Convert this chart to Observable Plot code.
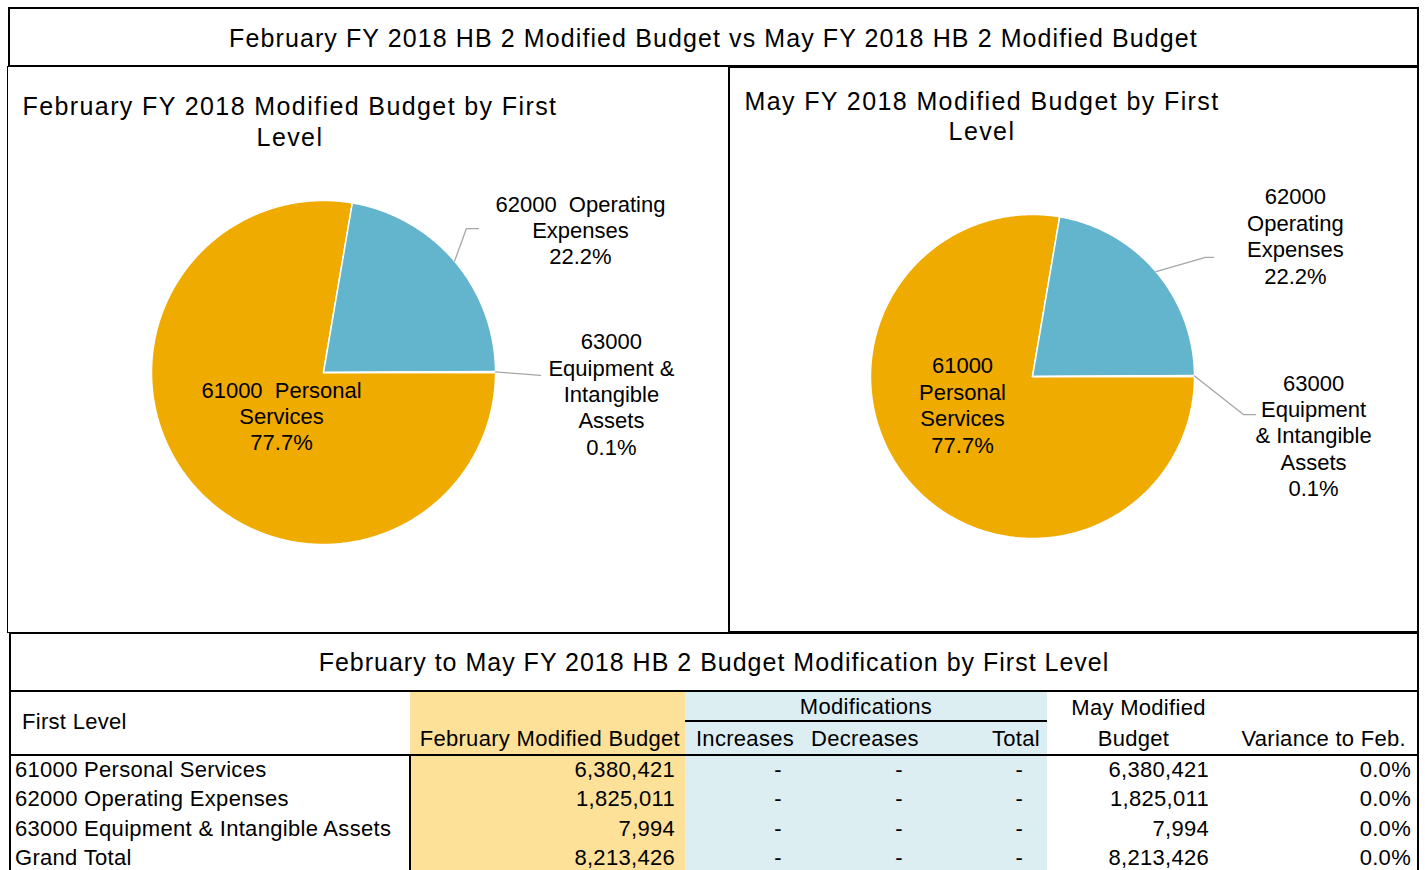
<!DOCTYPE html>
<html><head><meta charset="utf-8">
<script src="https://cdn.jsdelivr.net/npm/d3@7"></script>
<script src="https://cdn.jsdelivr.net/npm/@observablehq/plot@0.6"></script>
<style>
html,body{margin:0;padding:0;background:#fff;}
body{width:1425px;height:870px;overflow:hidden;position:relative;font-family:"Liberation Sans",Arial,sans-serif;color:#000;}
.abs{position:absolute;box-sizing:border-box;}
#mainTitle{left:8px;top:7px;width:1411px;height:60px;border:2px solid #000;text-align:center;font-size:25px;line-height:58px;letter-spacing:1.1px;}
#leftPanel{left:7px;top:66px;width:722px;height:567px;border:1px solid #000;}
#rightPanel{left:728px;top:66px;width:691px;height:567px;border:2px solid #000;}
.ctitle{white-space:nowrap;text-align:center;font-size:25px;letter-spacing:1.4px;width:700px;}
#tableBox{left:9px;top:632px;width:1410px;height:260px;border:2px solid #000;border-bottom:none;}
#tableTitle{height:56px;line-height:56px;text-align:center;font-size:25px;letter-spacing:1px;border-bottom:2px solid #000;}
table{border-collapse:collapse;table-layout:fixed;width:1406px;font-size:22px;letter-spacing:0.3px;}
td{padding:0;white-space:nowrap;overflow:visible;}
.yl{background:#FDE199;}
.lb{background:#DDEEF3;}
.bb{border-bottom:2px solid #000;}
.bl{border-left:2px solid #000;}
.r{text-align:right;}
.c{text-align:center;}
.pie{position:absolute;}
</style>
</head><body>
<script>
// ---------- data ----------
const categories = ["61000 Personal Services", "62000 Operating Expenses", "63000 Equipment & Intangible Assets"];
const febBudget = [6380421, 1825011, 7994];
const mayBudget = [6380421, 1825011, 7994];
const increases = [0, 0, 0];
const decreases = [0, 0, 0];
const modTotals = [0, 0, 0];
const pieColors = ["#F0AB00", "#63B4CD", "#A5A5A5"];

const mainTitle = "February FY 2018 HB 2 Modified Budget vs May FY 2018 HB 2 Modified Budget";
const febTitleLines = ["February FY 2018 Modified Budget by First", "Level"];
const mayTitleLines = ["May FY 2018 Modified Budget by First", "Level"];
const tableTitle = "February to May FY 2018 HB 2 Budget Modification by First Level";

// label text split (per pie), percent appended from values
const febLabelLines = [["61000\u00A0 Personal", "Services"], ["62000\u00A0 Operating", "Expenses"], ["63000", "Equipment &", "Intangible", "Assets"]];
const mayLabelLines = [["61000", "Personal", "Services"], ["62000", "Operating", "Expenses"], ["63000", "Equipment", "& Intangible", "Assets"]];
// label centres in pie-radius units
const febLabelPos = [[-0.244, -0.25], [1.494, 0.831], [1.674, -0.122]];
const mayLabelPos = [[-0.432, -0.173], [1.623, 0.870], [1.735, -0.361]];
// leader elbows in pie-radius units (start point is slice mid-angle on the rim)
const febLeaders = [null, [[0.831, 0.837], [0.901, 0.837]], [[1.262, -0.017]]];
const mayLeaders = [null, [[1.068, 0.735], [1.117, 0.735]], [[1.302, -0.235], [1.377, -0.235]]];

const el = (tag, cls, html) => { const e = document.createElement(tag); if (cls) e.className = cls; if (html != null) e.innerHTML = html; return e; };
const esc = s => s.replace(/&/g, "&amp;");

// ---------- frames ----------
const mt = el("div", "abs", esc(mainTitle)); mt.id = "mainTitle"; document.body.appendChild(mt);
const lp = el("div", "abs"); lp.id = "leftPanel"; document.body.appendChild(lp);
const rp = el("div", "abs"); rp.id = "rightPanel"; document.body.appendChild(rp);

function chartTitle(lines, centerX, top, lh) {
  const d = el("div", "abs ctitle", lines.map(esc).join("<br>"));
  d.style.left = (centerX - 350) + "px"; d.style.top = top + "px"; d.style.lineHeight = lh + "px";
  document.body.appendChild(d);
}
chartTitle(febTitleLines, 290, 91, 31);
chartTitle(mayTitleLines, 982, 86, 30);

// ---------- pies ----------
function pie(values, labelLines, labelPos, leaders, box) {
  const total = d3.sum(values);
  const arcs = d3.pie().sort(null).startAngle(Math.PI / 2).endAngle(Math.PI / 2 + 2 * Math.PI)(values);
  const pts = [];
  arcs.forEach((a, i) => {
    const n = Math.max(2, Math.ceil((a.endAngle - a.startAngle) / (Math.PI / 360)));
    pts.push({cat: categories[i], x: 0, y: 0});
    for (let j = 0; j <= n; j++) {
      const t = a.startAngle + (a.endAngle - a.startAngle) * j / n;
      pts.push({cat: categories[i], x: Math.sin(t), y: Math.cos(t)});
    }
    pts.push({cat: categories[i], x: 0, y: 0});
  });
  const fmt = d3.format(".1%");
  const labels = values.map((v, i) => ({x: labelPos[i][0], y: labelPos[i][1], text: [...labelLines[i], fmt(v / total)].join("\n")}));
  const lead = [];
  arcs.forEach((a, i) => {
    if (!leaders[i]) return;
    const m = (a.startAngle + a.endAngle) / 2;
    lead.push({k: i, x: Math.sin(m), y: Math.cos(m)});
    leaders[i].forEach(p => lead.push({k: i, x: p[0], y: p[1]}));
  });
  const {cx, cy, r, w, h} = box;
  return Plot.plot({
    width: w, height: h, margin: 0,
    style: {fontFamily: '"Liberation Sans", Arial, sans-serif', background: "transparent", overflow: "visible"},
    x: {domain: [-1, 1], range: [cx - r, cx + r], axis: null},
    y: {domain: [-1, 1], range: [cy + r, cy - r], axis: null},
    color: {domain: categories, range: pieColors},
    marks: [
      Plot.line(pts, {x: "x", y: "y", z: "cat", fill: "cat", stroke: "#fff", strokeWidth: 1.5, curve: "linear"}),
      Plot.line(lead, {x: "x", y: "y", z: "k", stroke: "#A6A6A6", strokeWidth: 1.3}),
      Plot.text(labels, {x: "x", y: "y", text: "text", fontSize: 22, lineHeight: 1.2, fill: "#000", textAnchor: "middle"})
    ]
  });
}
const p1 = pie(febBudget, febLabelLines, febLabelPos, febLeaders, {cx: 315, cy: 305, r: 172, w: 719, h: 564});
p1.classList.add("pie"); p1.style.left = "8px"; p1.style.top = "67px"; document.body.appendChild(p1);
const p2 = pie(mayBudget, mayLabelLines, mayLabelPos, mayLeaders, {cx: 302, cy: 308, r: 162, w: 687, h: 563});
p2.classList.add("pie"); p2.style.left = "730px"; p2.style.top = "68px"; document.body.appendChild(p2);

// ---------- table ----------
const tb = el("div", "abs"); tb.id = "tableBox"; document.body.appendChild(tb);
const tt = el("div", null, esc(tableTitle)); tt.id = "tableTitle"; tb.appendChild(tt);
const num = d3.format(",");
const dash = v => v === 0 ? "-" : num(v);
const pctf = d3.format(".1%");
const totalFeb = d3.sum(febBudget), totalMay = d3.sum(mayBudget);
const rows = categories.map((c, i) => ({name: c, feb: febBudget[i], inc: increases[i], dec: decreases[i], tot: modTotals[i], may: mayBudget[i]}));
rows.push({name: "Grand Total", feb: totalFeb, inc: d3.sum(increases), dec: d3.sum(decreases), tot: d3.sum(modTotals), may: totalMay, grand: true});

let html = `<table><colgroup><col style="width:399px"><col style="width:275px"><col style="width:120px"><col style="width:120px"><col style="width:122px"><col style="width:173px"><col style="width:197px"></colgroup>
<tr style="height:29px">
<td rowspan="2" class="bb" style="padding-left:11px;vertical-align:middle;padding-bottom:2px">First Level</td>
<td class="yl"></td>
<td colspan="3" class="lb c bb" style="vertical-align:bottom;line-height:27px">Modifications</td>
<td class="c" style="vertical-align:bottom;line-height:27px;padding-left:10px">May Modified</td>
<td></td></tr>
<tr style="height:34px">
<td class="yl r bb" style="padding-right:5px;line-height:30px;vertical-align:bottom;padding-bottom:0">February Modified Budget</td>
<td class="lb c bb" style="line-height:30px;vertical-align:bottom">Increases</td>
<td class="lb c bb" style="line-height:30px;vertical-align:bottom">Decreases</td>
<td class="lb r bb" style="padding-right:7px;line-height:30px;vertical-align:bottom">Total</td>
<td class="c bb" style="line-height:30px;vertical-align:bottom">Budget</td>
<td class="r bb" style="padding-right:11px;line-height:30px;vertical-align:bottom">Variance to Feb.</td></tr>`;
rows.forEach((d, i) => {
  const top = d.grand ? ' style="border-top:2px solid #000"' : '';
  html += `<tr style="height:${d.grand ? 30 : (i === 2 ? 29 : 30)}px"${top}>
<td style="padding-left:4px;padding-bottom:2px">${esc(d.name)}</td>
<td class="yl r bl" style="padding-right:10px;padding-bottom:2px">${num(d.feb)}</td>
<td class="lb r" style="padding-right:23px;padding-bottom:2px">${dash(d.inc)}</td>
<td class="lb r" style="padding-right:22px;padding-bottom:2px">${dash(d.dec)}</td>
<td class="lb r" style="padding-right:24px;padding-bottom:2px">${dash(d.tot)}</td>
<td class="r" style="padding-right:11px;padding-bottom:2px">${num(d.may)}</td>
<td class="r" style="padding-right:6px;padding-bottom:2px">${pctf((d.may - d.feb) / d.feb)}</td></tr>`;
});
html += `</table>`;
tb.insertAdjacentHTML("beforeend", html);
</script>
</body></html>
